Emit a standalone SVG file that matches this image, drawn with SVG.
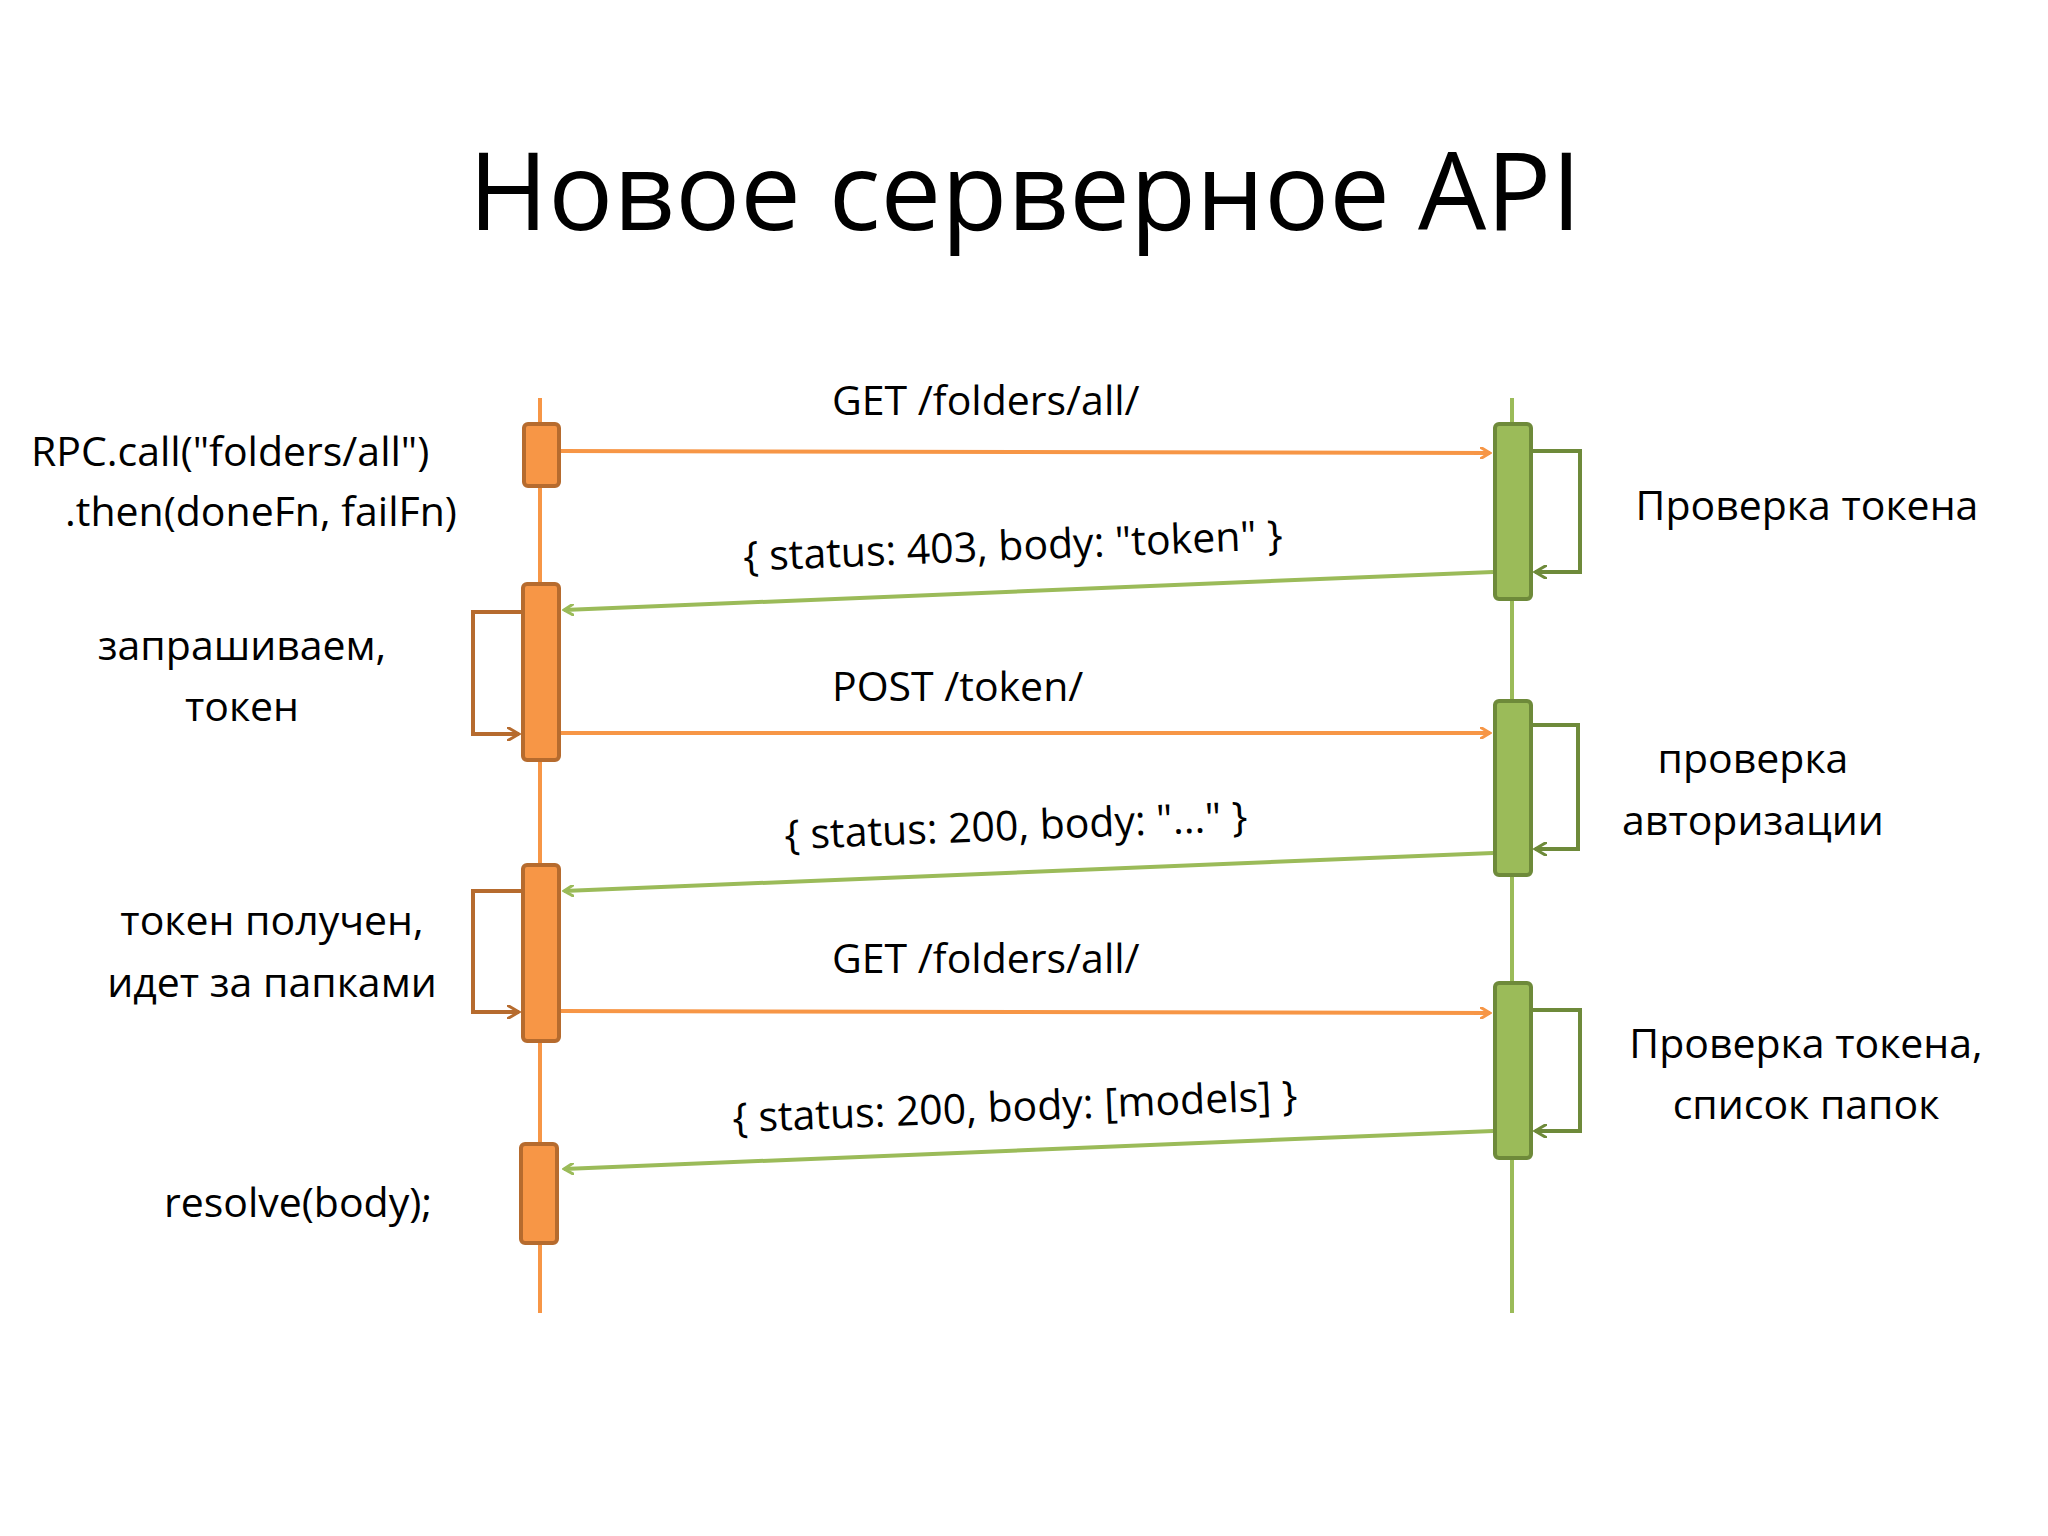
<svg xmlns="http://www.w3.org/2000/svg" width="2048" height="1536" viewBox="0 0 2048 1536">
<style>
text{font-family:"Open Sans","Noto Sans","Liberation Sans",sans-serif;fill:#000;font-size:41px}
.c{text-anchor:middle}
.ob{fill:#F79646;stroke:#B66B2E;stroke-width:4}
.gb{fill:#9BBB59;stroke:#6E8A3A;stroke-width:4}
.oa{stroke:#F79646;stroke-width:4;fill:none}
.ga{stroke:#9BBB59;stroke-width:4;fill:none}
.ol{stroke:#B66B2E;stroke-width:4;fill:none}
.gl{stroke:#6E8A3A;stroke-width:4;fill:none}
</style>
<defs>
<marker id="ao" markerWidth="12" markerHeight="12" refX="10" refY="6" orient="auto" markerUnits="userSpaceOnUse"><path d="M0,0 L10,6 L0,12" fill="none" stroke="#F79646" stroke-width="3"/></marker>
<marker id="ag" markerWidth="12" markerHeight="12" refX="10" refY="6" orient="auto" markerUnits="userSpaceOnUse"><path d="M0,0 L10,6 L0,12" fill="none" stroke="#9BBB59" stroke-width="3"/></marker>
<marker id="aol" markerWidth="14" markerHeight="14" refX="12" refY="7" orient="auto" markerUnits="userSpaceOnUse"><path d="M0,0 L12,7 L0,14" fill="none" stroke="#B66B2E" stroke-width="3"/></marker>
<marker id="agl" markerWidth="14" markerHeight="14" refX="12" refY="7" orient="auto" markerUnits="userSpaceOnUse"><path d="M0,0 L12,7 L0,14" fill="none" stroke="#6E8A3A" stroke-width="3"/></marker>
</defs>
<rect width="2048" height="1536" fill="#fff"/>
<text x="1025" y="230" class="c" style="font-size:108px">Новое серверное API</text>
<g id="lifelines">
<line x1="540" y1="398" x2="540" y2="1313" stroke="#F79646" stroke-width="4"/>
<line x1="1512" y1="398" x2="1512" y2="1313" stroke="#9BBB59" stroke-width="4"/>
</g>
<g id="connectors">
<line class="oa" x1="559" y1="451" x2="1490" y2="453" marker-end="url(#ao)"/>
<line class="ga" x1="1493" y1="572" x2="564" y2="610" marker-end="url(#ag)"/>
<line class="oa" x1="559" y1="733" x2="1490" y2="733" marker-end="url(#ao)"/>
<line class="ga" x1="1493" y1="853" x2="564" y2="891" marker-end="url(#ag)"/>
<line class="oa" x1="559" y1="1011" x2="1490" y2="1013" marker-end="url(#ao)"/>
<line class="ga" x1="1493" y1="1131" x2="564" y2="1169" marker-end="url(#ag)"/>
<path class="gl" d="M1531,451 H1580 V572 H1535" marker-end="url(#agl)"/>
<path class="gl" d="M1531,725 H1578 V849 H1535" marker-end="url(#agl)"/>
<path class="gl" d="M1531,1010 H1580 V1131 H1535" marker-end="url(#agl)"/>
<path class="ol" d="M522,612 H473 V734 H519" marker-end="url(#aol)"/>
<path class="ol" d="M522,891 H473 V1012 H519" marker-end="url(#aol)"/>
</g>
<g id="client-boxes">
<rect class="ob" x="524" y="424" width="35" height="62" rx="4"/>
<rect class="ob" x="523" y="584" width="36" height="176" rx="4"/>
<rect class="ob" x="523" y="865" width="36" height="176" rx="4"/>
<rect class="ob" x="521" y="1144" width="36" height="99" rx="4"/>
</g>
<g id="server-boxes">
<rect class="gb" x="1495" y="424" width="36" height="175" rx="4"/>
<rect class="gb" x="1495" y="701" width="36" height="174" rx="4"/>
<rect class="gb" x="1495" y="983" width="36" height="175" rx="4"/>
</g>
<g id="labels">
<text x="832" y="415">GET /folders/all/</text>
<text x="31" y="466">RPC.call("folders/all")</text>
<text x="65" y="526">.then(doneFn, failFn)</text>
<text x="1807" y="520" class="c">Проверка токена</text>
<text x="1013" y="560" class="c" transform="rotate(-2.3 1013 549)">{ status: 403, body: "token" }</text>
<text x="242" y="660" class="c">запрашиваем,</text>
<text x="242" y="721" class="c">токен</text>
<text x="832" y="701">POST /token/</text>
<text x="1753" y="773" class="c">проверка</text>
<text x="1753" y="835" class="c">авторизации</text>
<text x="1016" y="840" class="c" transform="rotate(-2.3 1016 829)">{ status: 200, body: "..." }</text>
<text x="272" y="935" class="c">токен получен,</text>
<text x="272" y="997" class="c">идет за папками</text>
<text x="832" y="973">GET /folders/all/</text>
<text x="1806" y="1058" class="c">Проверка токена,</text>
<text x="1806" y="1119" class="c">список папок</text>
<text x="1015" y="1121" class="c" transform="rotate(-2.3 1015 1110)">{ status: 200, body: [models] }</text>
<text x="298" y="1217" class="c">resolve(body);</text>
</g>
</svg>
